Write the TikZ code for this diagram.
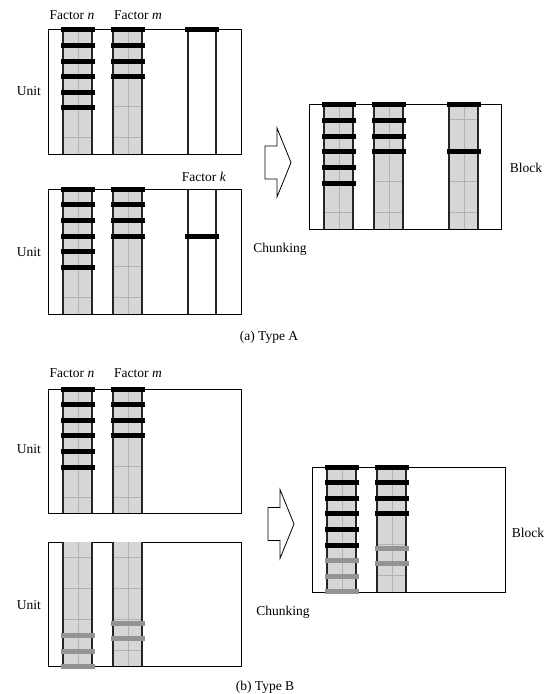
\documentclass[tikz,border=0pt]{standalone}
\usepackage{fontspec}
\setmainfont{Liberation Serif}
\usetikzlibrary{positioning}

% 一列因子（灰底）与一根横条
\newcommand{\fcol}[3]{%
  \fill[colfill] (#1,#2) rectangle (#1+29,#3);
  \draw[colgrid] (#1+15,#2) -- (#1+15,#3);
  \foreach \k in {1,...,4} {
    \draw[colgrid] (#1,#2+\k*31-16) -- ++(29,0);
  }
  \draw[colside] (#1,#2) -- (#1,#3) (#1+29,#2) -- (#1+29,#3);
}
\newcommand{\ecol}[3]{%
  \draw[colside] (#1,#2) -- (#1,#3) (#1+28,#2) -- (#1+28,#3);
}
\newcommand{\slab}[3][blackbar]{%
  \fill[#1] (#2-2.5,#3-2.5) rectangle (#2+31.5,#3+2.5);
}
\newcommand{\bigarrow}[2]{%
  \draw[line width=0.8pt, fill=white] (#1,#2-16.5) -- (#1+12,#2-16.5) -- (#1+12,#2-34.5)
    -- (#1+26,#2) -- (#1+12,#2+34.5) -- (#1+12,#2+16.5) -- (#1,#2+16.5) -- cycle;
}

\tikzset{
  lbl/.style={font=\fontsize{13.5}{16}\selectfont, inner sep=0pt},
  panel/.style={draw, line width=0.9pt},
  colfill/.style={fill=gray!32},
  colgrid/.style={draw=gray!60, line width=0.3pt},
  colside/.style={draw=black!85, line width=1.1pt},
  blackbar/.style={fill=black},
  greybar/.style={fill=gray!85},
}

\begin{document}
\begin{tikzpicture}[x=1pt,y=-1pt]
    \useasboundingbox (0,0) rectangle (549,694);

    % (a) 上面的单元
    \draw[panel] (48,29) rectangle (241,154);
    \fcol{63}{29}{154}
    \fcol{113}{29}{154}
    \ecol{188}{29}{154}
    \foreach \y in {29,45,61,76,92,107} { \slab{63}{\y} }
    \foreach \y in {29,45,61,76} { \slab{113}{\y} }
    \slab{187}{29}
    \node[lbl] (fnA) at (72,15) {Factor \textit{n}};
    \node[lbl] (fmA) at (138,15) {Factor \textit{m}};
    \node[lbl] (unitA1) at (29,91) {Unit};

    % (a) 下面的单元
    \draw[panel] (48,189) rectangle (241,314);
    \fcol{63}{189}{314}
    \fcol{113}{189}{314}
    \ecol{188}{189}{314}
    \foreach \y in {189,204.5,220,236,251,267} { \slab{63}{\y} }
    \foreach \y in {189,204.5,220,236} { \slab{113}{\y} }
    \slab{187}{236}
    \node[lbl] (fkA) at (204,177) {Factor \textit{k}};
    \node[lbl] (unitA2) at (29,252) {Unit};

    % (a) 箭头与块
    \bigarrow{265}{162.5}
    \node[lbl] (chunkA) at (280,249) {Chunking};
    \draw[panel] (309,104) rectangle (501,229);
    \fcol{324}{104}{229}
    \fcol{374}{104}{229}
    \fcol{449}{104}{229}
    \foreach \y in {104,120,136,151,167,183} { \slab{324}{\y} }
    \foreach \y in {104,120,136,151} { \slab{374}{\y} }
    \foreach \y in {104,151} { \slab{449}{\y} }
    \node[lbl] (blockA) at (526,168) {Block};
    \node[lbl] (capA) at (269,337) {(a) Type A};

    % (b) 上面的单元
    \draw[panel] (48,389) rectangle (241,513);
    \fcol{63}{389}{513}
    \fcol{113}{389}{513}
    \foreach \y in {389,404,420,435,451,467} { \slab{63}{\y} }
    \foreach \y in {389,404,420,435} { \slab{113}{\y} }
    \node[lbl] (fnB) at (72,373) {Factor \textit{n}};
    \node[lbl] (fmB) at (138,373) {Factor \textit{m}};
    \node[lbl] (unitB1) at (29,449) {Unit};

    % (b) 下面的单元
    \draw[panel] (48,542) rectangle (241,666);
    \fcol{63}{542}{666}
    \fcol{113}{542}{666}
    \foreach \y in {635,651,666} { \slab[greybar]{63}{\y} }
    \foreach \y in {623,638} { \slab[greybar]{113}{\y} }
    \node[lbl] (unitB2) at (29,605) {Unit};

    % (b) 箭头与块
    \bigarrow{268}{524}
    \node[lbl] (chunkB) at (283,612) {Chunking};
    \draw[panel] (312,467) rectangle (505,592);
    \fcol{327}{467}{592}
    \fcol{377}{467}{592}
    \foreach \y in {467,482,498,513,529,545} { \slab{327}{\y} }
    \foreach \y in {560,576,591} { \slab[greybar]{327}{\y} }
    \foreach \y in {467,482,498,513} { \slab{377}{\y} }
    \foreach \y in {548,563} { \slab[greybar]{377}{\y} }
    \node[lbl] (blockB) at (528,533) {Block};
    \node[lbl] (capB) at (265,687) {(b) Type B};
\end{tikzpicture}
\end{document}
